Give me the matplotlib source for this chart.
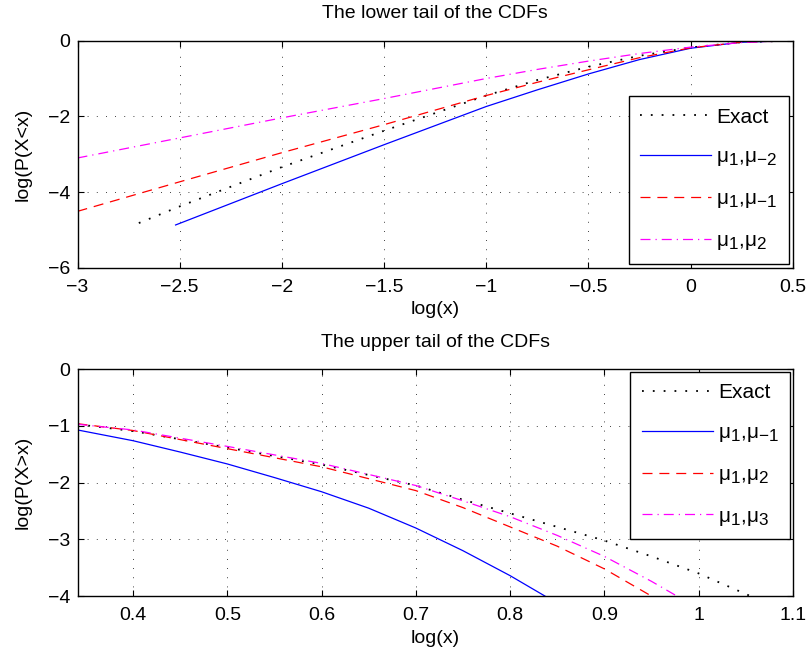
import matplotlib
matplotlib.use("Agg")
import matplotlib.pyplot as plt
from matplotlib.ticker import FuncFormatter
import matplotlib._mathtext as mathtext_mod

# MATLAB-style subscripts are larger than matplotlib's default
mathtext_mod.SHRINK_FACTOR = 0.82

plt.rcParams['font.family'] = ['Liberation Sans', 'DejaVu Sans']
plt.rcParams['mathtext.fontset'] = 'custom'
plt.rcParams['mathtext.rm'] = 'Liberation Sans'
plt.rcParams['mathtext.it'] = 'Liberation Sans'
plt.rcParams['mathtext.default'] = 'regular'
font_size = 14
legend_size = 15

# ---- lower tail data (log x, log P(X<x))
lx_exact = [-2.7, -2.5, -2.0, -1.5, -1.0, -0.75, -0.5, -0.25, 0.0, 0.25, 0.5]
ly_exact = [-4.82, -4.38, -3.34, -2.38, -1.45, -1.04, -0.69, -0.4, -0.18, -0.04, 0.0]
lx_m2 = [-2.52, -2.0, -1.5, -1.0, -0.75, -0.5, -0.25, 0.0, 0.25, 0.5]
ly_m2 = [-4.87, -3.78, -2.75, -1.74, -1.3, -0.88, -0.5, -0.2, -0.04, 0.0]
lx_m1 = [-3.0, -2.5, -2.0, -1.5, -1.0, -0.75, -0.5, -0.25, 0.0, 0.25, 0.5]
ly_m1 = [-4.51, -3.73, -2.96, -2.22, -1.45, -1.1, -0.77, -0.45, -0.19, -0.04, 0.0]
lx_p2 = [-3.0, -2.5, -2.0, -1.5, -1.0, -0.75, -0.5, -0.25, 0.0, 0.25, 0.5]
ly_p2 = [-3.1, -2.57, -2.04, -1.53, -1.0, -0.76, -0.54, -0.34, -0.17, -0.05, 0.0]

# ---- upper tail data (log x, log P(X>x))
ux_exact = [0.341, 0.4, 0.5, 0.6, 0.7, 0.75, 0.8, 0.85, 0.9, 0.95, 1.0, 1.055]
uy_exact = [-0.97, -1.09, -1.38, -1.68, -2.05, -2.3, -2.54, -2.78, -3.02, -3.3, -3.6, -4.0]
ux_m1 = [0.341, 0.4, 0.45, 0.5, 0.55, 0.6, 0.65, 0.7, 0.75, 0.8, 0.837]
uy_m1 = [-1.07, -1.26, -1.46, -1.67, -1.91, -2.16, -2.45, -2.8, -3.2, -3.64, -4.0]
ux_p2 = [0.341, 0.4, 0.5, 0.6, 0.7, 0.75, 0.8, 0.85, 0.9, 0.95]
uy_p2 = [-0.96, -1.08, -1.4, -1.72, -2.14, -2.44, -2.78, -3.12, -3.52, -4.0]
ux_p3 = [0.341, 0.4, 0.5, 0.6, 0.7, 0.75, 0.8, 0.85, 0.9, 0.95, 0.977]
uy_p3 = [-0.97, -1.07, -1.36, -1.66, -2.05, -2.32, -2.6, -2.93, -3.3, -3.74, -4.0]

lower_labels = ['Exact', r'$\mu_1$,$\mu_{-2}$', r'$\mu_1$,$\mu_{-1}$', r'$\mu_1$,$\mu_2$']
upper_labels = ['Exact', r'$\mu_1$,$\mu_{-1}$', r'$\mu_1$,$\mu_2$', r'$\mu_1$,$\mu_3$']


def fmt(v, pos):
    return ('%g' % v).replace('-', '\u2212')


def style_axes(ax):
    ax.grid(True, color='black', linestyle=(0, (1, 10)), linewidth=0.6)
    ax.tick_params(direction='in', top=True, right=True, length=4,
                   labelsize=font_size, width=0.8)
    ax.tick_params(axis='x', pad=8)
    ax.tick_params(axis='y', pad=5)
    for s in ax.spines.values():
        s.set_linewidth(1.0)
    ax.xaxis.set_major_formatter(FuncFormatter(fmt))
    ax.yaxis.set_major_formatter(FuncFormatter(fmt))


def add_legend(ax, loc, pad):
    leg = ax.legend(loc=loc, fontsize=legend_size, fancybox=False, framealpha=1,
                    edgecolor='black', handlelength=3.4, handletextpad=0.25,
                    labelspacing=1.0, borderaxespad=pad, borderpad=0.55)
    leg.get_frame().set_linewidth(1.0)
    return leg


dot = (0, (1, 5))
dash = (0, (8, 5.5))
dashdot = (0, (8, 4, 1, 4))

fig = plt.figure(figsize=(8.09, 6.57), dpi=100)

ax1 = fig.add_axes([0.0958, 0.5925, 0.8841, 0.3456])
ax1.plot(lx_exact, ly_exact, color='black', linestyle=dot, linewidth=1.3, label=lower_labels[0])
ax1.plot(lx_m2, ly_m2, color='blue', linestyle='-', linewidth=0.9, label=lower_labels[1])
ax1.plot(lx_m1, ly_m1, color='red', linestyle=dash, linewidth=0.9, label=lower_labels[2])
ax1.plot(lx_p2, ly_p2, color='magenta', linestyle=dashdot, linewidth=0.9, label=lower_labels[3])
ax1.set_xlim(-3, 0.5)
ax1.set_ylim(-6, 0)
ax1.set_xticks([-3, -2.5, -2, -1.5, -1, -0.5, 0, 0.5])
ax1.set_yticks([-6, -4, -2, 0])
style_axes(ax1)
ax1.set_title('The lower tail of the CDFs', fontsize=font_size, pad=16)
ax1.set_xlabel('log(x)', fontsize=font_size, labelpad=4)
ax1.set_ylabel('log(P(X<x)', fontsize=font_size, labelpad=12)
add_legend(ax1, 'lower right', 0.2)

ax2 = fig.add_axes([0.0958, 0.0928, 0.8841, 0.3451])
ax2.plot(ux_exact, uy_exact, color='black', linestyle=dot, linewidth=1.3, label=upper_labels[0])
ax2.plot(ux_m1, uy_m1, color='blue', linestyle='-', linewidth=0.9, label=upper_labels[1])
ax2.plot(ux_p2, uy_p2, color='red', linestyle=dash, linewidth=0.9, label=upper_labels[2])
ax2.plot(ux_p3, uy_p3, color='magenta', linestyle=dashdot, linewidth=0.9, label=upper_labels[3])
ax2.set_xlim(0.341, 1.1)
ax2.set_ylim(-4, 0)
ax2.set_xticks([0.4, 0.5, 0.6, 0.7, 0.8, 0.9, 1.0, 1.1])
ax2.set_yticks([-4, -3, -2, -1, 0])
style_axes(ax2)
ax2.set_title('The upper tail of the CDFs', fontsize=font_size, pad=16)
ax2.set_xlabel('log(x)', fontsize=font_size, labelpad=4)
ax2.set_ylabel('log(P(X>x)', fontsize=font_size, labelpad=12)
add_legend(ax2, 'upper right', 0.12)

plt.savefig('out.png', dpi=100)
